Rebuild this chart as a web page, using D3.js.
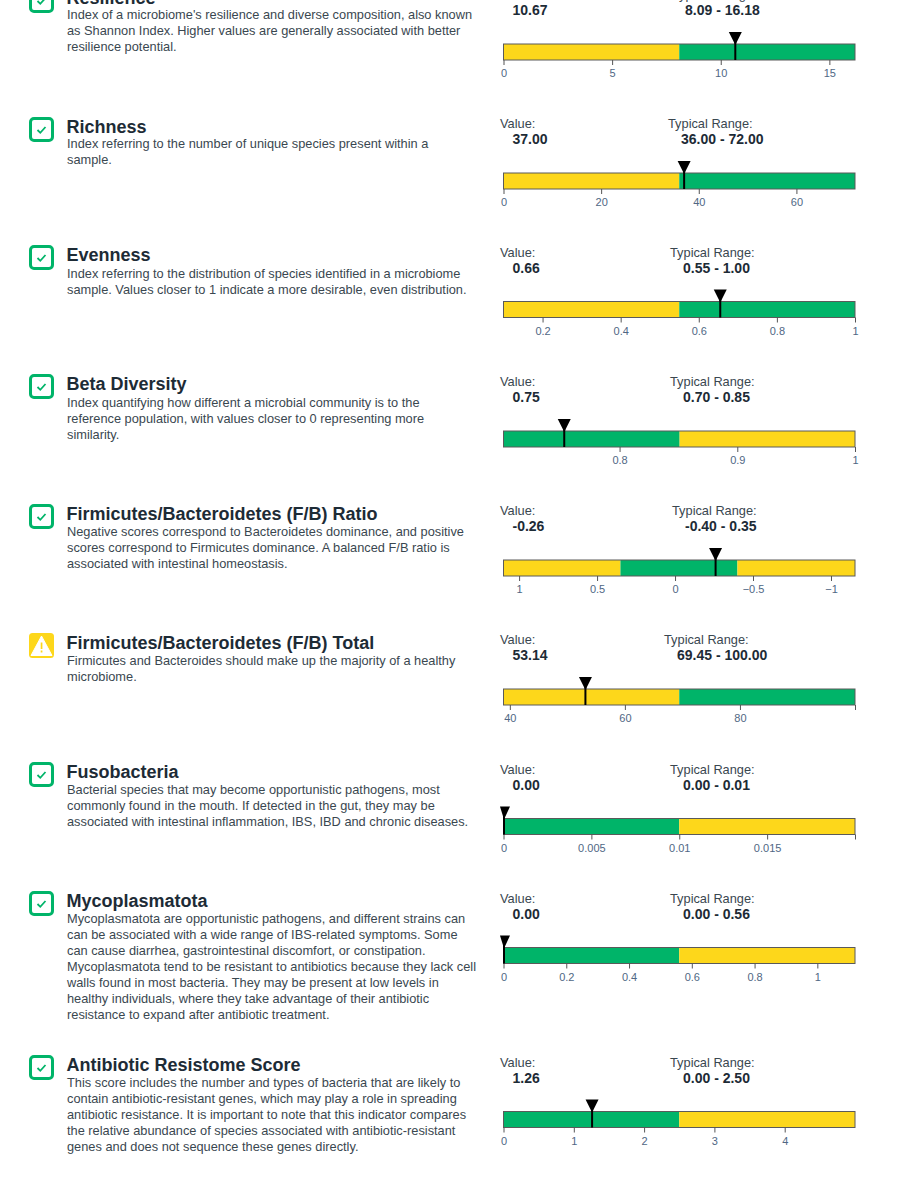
<!DOCTYPE html>
<html><head><meta charset="utf-8">
<script src="https://cdn.jsdelivr.net/npm/d3@7/dist/d3.min.js"></script>
<style>html,body{margin:0;padding:0;background:#fff;overflow:hidden}svg{display:block}text{font-family:"Liberation Sans",Arial,sans-serif}</style>
</head><body><svg id="c" width="900" height="1199"></svg>
<script>
const names=["Resilience","Richness","Evenness","Beta Diversity","Firmicutes/Bacteroidetes (F/B) Ratio","Firmicutes/Bacteroidetes (F/B) Total","Fusobacteria","Mycoplasmatota","Antibiotic Resistome Score"];
const descriptions=[
["Index of a microbiome's resilience and diverse composition, also known","as Shannon Index. Higher values are generally associated with better","resilience potential."],
["Index referring to the number of unique species present within a","sample."],
["Index referring to the distribution of species identified in a microbiome","sample. Values closer to 1 indicate a more desirable, even distribution."],
["Index quantifying how different a microbial community is to the","reference population, with values closer to 0 representing more","similarity."],
["Negative scores correspond to Bacteroidetes dominance, and positive","scores correspond to Firmicutes dominance. A balanced F/B ratio is","associated with intestinal homeostasis."],
["Firmicutes and Bacteroides should make up the majority of a healthy","microbiome."],
["Bacterial species that may become opportunistic pathogens, most","commonly found in the mouth. If detected in the gut, they may be","associated with intestinal inflammation, IBS, IBD and chronic diseases."],
["Mycoplasmatota are opportunistic pathogens, and different strains can","can be associated with a wide range of IBS-related symptoms. Some","can cause diarrhea, gastrointestinal discomfort, or constipation.","Mycoplasmatota tend to be resistant to antibiotics because they lack cell","walls found in most bacteria. They may be present at low levels in","healthy individuals, where they take advantage of their antibiotic","resistance to expand after antibiotic treatment."],
["This score includes the number and types of bacteria that are likely to","contain antibiotic-resistant genes, which may play a role in spreading","antibiotic resistance. It is important to note that this indicator compares","the relative abundance of species associated with antibiotic-resistant","genes and does not sequence these genes directly."]];
const status=["ok","ok","ok","ok","ok","warn","ok","ok","ok"];
const values=[10.67,37,0.655,0.753,-0.26,53.14,0,0,1.26];
const valueLabels=["10.67","37.00","0.66","0.75","-0.26","53.14","0.00","0.00","1.26"];
const rangeLabels=["8.09 - 16.18","36.00 - 72.00","0.55 - 1.00","0.70 - 0.85","-0.40 - 0.35","69.45 - 100.00","0.00 - 0.01","0.00 - 0.56","0.00 - 2.50"];
const domains=[[0,16.18],[0,72],[0.1,1],[0.7014,1],[1.1,-1.154],[38.9,100],[0,0.02],[0,1.12],[0,5]];
/* colour bands: [from, to, kind] */
const bands=[
[[0,8.09,"y"],[8.09,16.18,"g"]],
[[0,36,"y"],[36,72,"g"]],
[[0.1,0.55,"y"],[0.55,1,"g"]],
[[0.7014,0.851,"g"],[0.851,1,"y"]],
[[1.1,0.35,"y"],[0.35,-0.4,"g"],[-0.4,-1.154,"y"]],
[[38.9,69.45,"y"],[69.45,100,"g"]],
[[0,0.01,"g"],[0.01,0.02,"y"]],
[[0,0.56,"g"],[0.56,1.12,"y"]],
[[0,2.5,"g"],[2.5,5,"y"]]];
const tickValues=[[0,5,10,15],[0,20,40,60],[0.2,0.4,0.6,0.8,1],[0.8,0.9,1],[1,0.5,0,-0.5,-1],[40,60,80,100],[0,0.005,0.01,0.015,0.02],[0,0.2,0.4,0.6,0.8,1],[0,1,2,3,4]];
const tickLabels=[["0","5","10","15"],["0","20","40","60"],["0.2","0.4","0.6","0.8","1"],["0.8","0.9","1"],["1","0.5","0","−0.5","−1"],["40","60","80",""],["0","0.005","0.01","0.015",""],["0","0.2","0.4","0.6","0.8","1"],["0","1","2","3","4"]];

/* layout */
const titleY=[4,133,261,390,520,649,778,907,1071];
const descY=[19,148,277.5,406.5,535.5,665,794,922.5,1087];
const barTop=[44,173,301.5,431,560,689,818.5,947.5,1111.5];
const rangeLabelX=[672,668,670,670,672,664,670,670,670];
const rangeValueX=[685,681,683,683,685,677,683,683,683];
const X0=503.5,X1=855,BAR_H=16;
const GREEN="#00b469",YELLOW="#fdd71b",DARK="#1d2b36",BODY="#3a4750",TICK="#506784";

const svg=d3.select("#c");
names.forEach((name,i)=>{
  const g=svg.append("g");
  const ty=titleY[i],bt=barTop[i];
  const ic=g.append("g").attr("transform",`translate(29,${ty-16})`);
  if(status[i]==="ok"){
    ic.append("rect").attr("x",1.5).attr("y",1.5).attr("width",22).attr("height",22).attr("rx",3.5).attr("fill","#fff").attr("stroke",GREEN).attr("stroke-width",3);
    ic.append("path").attr("d","M8.5 13 L11.3 15.8 L16.5 10").attr("fill","none").attr("stroke",GREEN).attr("stroke-width",1.8);
  }else{
    ic.append("rect").attr("width",25).attr("height",25).attr("rx",3.5).attr("fill",YELLOW);
    ic.append("path").attr("d","M12.5 3 L23 22.5 L2 22.5 Z").attr("fill","#fff").attr("stroke","#fff").attr("stroke-width",1).attr("stroke-linejoin","round");
    ic.append("rect").attr("x",11.7).attr("y",9.5).attr("width",1.7).attr("height",6.5).attr("fill",YELLOW);
    ic.append("rect").attr("x",11.7).attr("y",17.5).attr("width",1.7).attr("height",2).attr("fill",YELLOW);
  }
  g.append("text").attr("x",66.5).attr("y",ty).attr("font-size",18).attr("font-weight",700).attr("fill",DARK).text(name);
  g.selectAll("text.d").data(descriptions[i]).join("text").attr("class","d")
    .attr("x",67).attr("y",(d,k)=>descY[i]+k*16.1).attr("font-size",12.8).attr("fill",BODY).text(d=>d);
  g.append("text").attr("x",500).attr("y",bt-45).attr("font-size",12.8).attr("fill",BODY).text("Value:");
  g.append("text").attr("x",512.5).attr("y",bt-29).attr("font-size",14).attr("font-weight",700).attr("fill",DARK).text(valueLabels[i]);
  g.append("text").attr("x",rangeLabelX[i]).attr("y",bt-45).attr("font-size",12.8).attr("fill",BODY).text("Typical Range:");
  g.append("text").attr("x",rangeValueX[i]).attr("y",bt-29).attr("font-size",14).attr("font-weight",700).attr("fill",DARK).text(rangeLabels[i]);
  const x=d3.scaleLinear().domain(domains[i]).range([X0,X1]);
  g.selectAll("rect.b").data(bands[i]).join("rect").attr("class","b")
    .attr("x",d=>x(d[0])).attr("width",d=>x(d[1])-x(d[0]))
    .attr("y",bt).attr("height",BAR_H).attr("fill",d=>d[2]==="g"?GREEN:YELLOW);
  g.append("rect").attr("x",X0).attr("y",bt).attr("width",X1-X0).attr("height",BAR_H)
    .attr("fill","none").attr("stroke","#5a5a5a").attr("stroke-width",1);
  const axis=d3.axisBottom(x).tickValues(tickValues[i]).tickSize(5).tickPadding(4.5)
    .tickFormat((d,k)=>tickLabels[i][k]);
  const ax=g.append("g").attr("transform",`translate(0,${bt+BAR_H})`).call(axis);
  ax.select(".domain").remove();
  ax.selectAll("line").attr("stroke","#555");
  ax.selectAll("text").attr("fill",TICK).attr("font-size",11).attr("font-family",'"Liberation Sans",Arial,sans-serif');
  const zero=values[i]===0;
  const mx=x(values[i])+(zero?0.5:0);
  g.append("rect").attr("x",mx-1).attr("y",bt-4).attr("width",2).attr("height",BAR_H+4).attr("fill","#000");
  const pts=zero?[[mx-4,bt-12],[mx+6,bt-12],[mx,bt+1]]:[[mx-6.5,bt-12],[mx+6.5,bt-12],[mx,bt+1]];
  g.append("path").attr("d",d3.line()(pts)+"Z").attr("fill","#000");
});
</script></body></html>
